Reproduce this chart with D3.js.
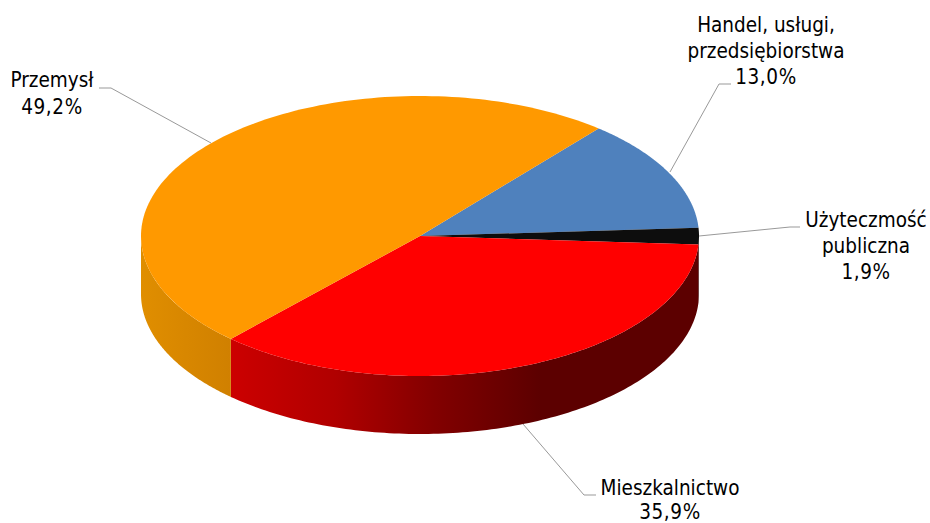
<!DOCTYPE html>
<html><head><meta charset="utf-8">
<script src="https://cdn.jsdelivr.net/npm/d3@7"></script>
<style>html,body{margin:0;padding:0;background:#fff}svg{display:block}text{font-family:"DejaVu Sans Condensed","DejaVu Sans",sans-serif;font-stretch:condensed;font-size:20.5px;fill:#000}</style>
</head><body><svg id="c" width="930" height="523"></svg>
<script>
const categories=["Handel, usługi, przedsiębiorstwa","Użyteczmość publiczna","Mieszkalnictwo","Przemysł"];
const values=[13.0,1.9,35.9,49.2];
const topColors=["#4f81bd","#0d0d0d","#ff0000","#ff9900"];
const wallStops=[null,null,[[0,"#cc0000"],[0.34,"#b00000"],[0.66,"#820000"],[1,"#5c0000"]],[[0,"#e08e00"],[1,"#d08000"]]];
const wallEndX=[null,null,540,null];
const labelLines=[["Handel, usługi,","przedsiębiorstwa","13,0%"],["Użyteczmość","publiczna","1,9%"],["Mieszkalnictwo","35,9%"],["Przemysł","49,2%"]];
const labelPos=[[766,32],[866,227],[670,495],[52,87]];
const lineGaps=[26,26,24,27];
const leaders=[[[670,172],[719,84],[731,84]],[[699,236],[790,227],[800,227]],[[523,424],[584,495],[596,495]],[[211,143],[111,88],[99,88]]];
const startDeg=39.8;
const cx=420,cy=236,rx=279,ry=140,depth=58;
const svg=d3.select("#c"),defs=svg.append("defs");
const pie=d3.pie().sort(null).startAngle(startDeg*Math.PI/180).endAngle((360+startDeg)*Math.PI/180);
const arcs=pie(values);
const px=a=>cx+rx*Math.sin(a), py=a=>cy-ry*Math.cos(a);
const line=d3.line();
const samples=(a0,a1)=>d3.range(0,129).map(i=>a0+(a1-a0)*i/128);
arcs.forEach((d,i)=>{
  let a0=Math.max(d.startAngle,Math.PI/2),a1=Math.min(d.endAngle,3*Math.PI/2);
  if(a1<=a0)return;
  const S=samples(a0,a1);
  const top=S.map(a=>[px(a),py(a)]);
  const bot=S.map(a=>[px(a),py(a)+depth]).reverse();
  let fill=topColors[i];
  if(wallStops[i]){
    const id="w"+i,x1=d3.min(top,p=>p[0]),x2=wallEndX[i]||d3.max(top,p=>p[0]);
    const g=defs.append("linearGradient").attr("id",id).attr("gradientUnits","userSpaceOnUse").attr("x1",x1).attr("x2",x2).attr("y1",0).attr("y2",0);
    wallStops[i].forEach(s=>g.append("stop").attr("offset",s[0]).attr("stop-color",s[1]));
    fill="url(#"+id+")";
  }
  svg.append("path").attr("d",line(top.concat(bot))+"Z").attr("fill",fill);
});
arcs.forEach((d,i)=>{
  const P=[[cx,cy]].concat(samples(d.startAngle,d.endAngle).map(a=>[px(a),py(a)]));
  svg.append("path").attr("d",line(P)+"Z").attr("fill",topColors[i]);
});
leaders.forEach(l=>svg.append("path").attr("d",line(l)).attr("fill","none").attr("stroke","#999").attr("stroke-width",1));
labelLines.forEach((L,i)=>{
  const t=svg.append("text").attr("text-anchor","middle").attr("x",labelPos[i][0]).attr("y",labelPos[i][1]);
  L.forEach((s,j)=>t.append("tspan").attr("x",labelPos[i][0]).attr("y",labelPos[i][1]+j*lineGaps[i]).attr("letter-spacing",j===L.length-1?"0.6px":null).text(s));
});
</script></body></html>
